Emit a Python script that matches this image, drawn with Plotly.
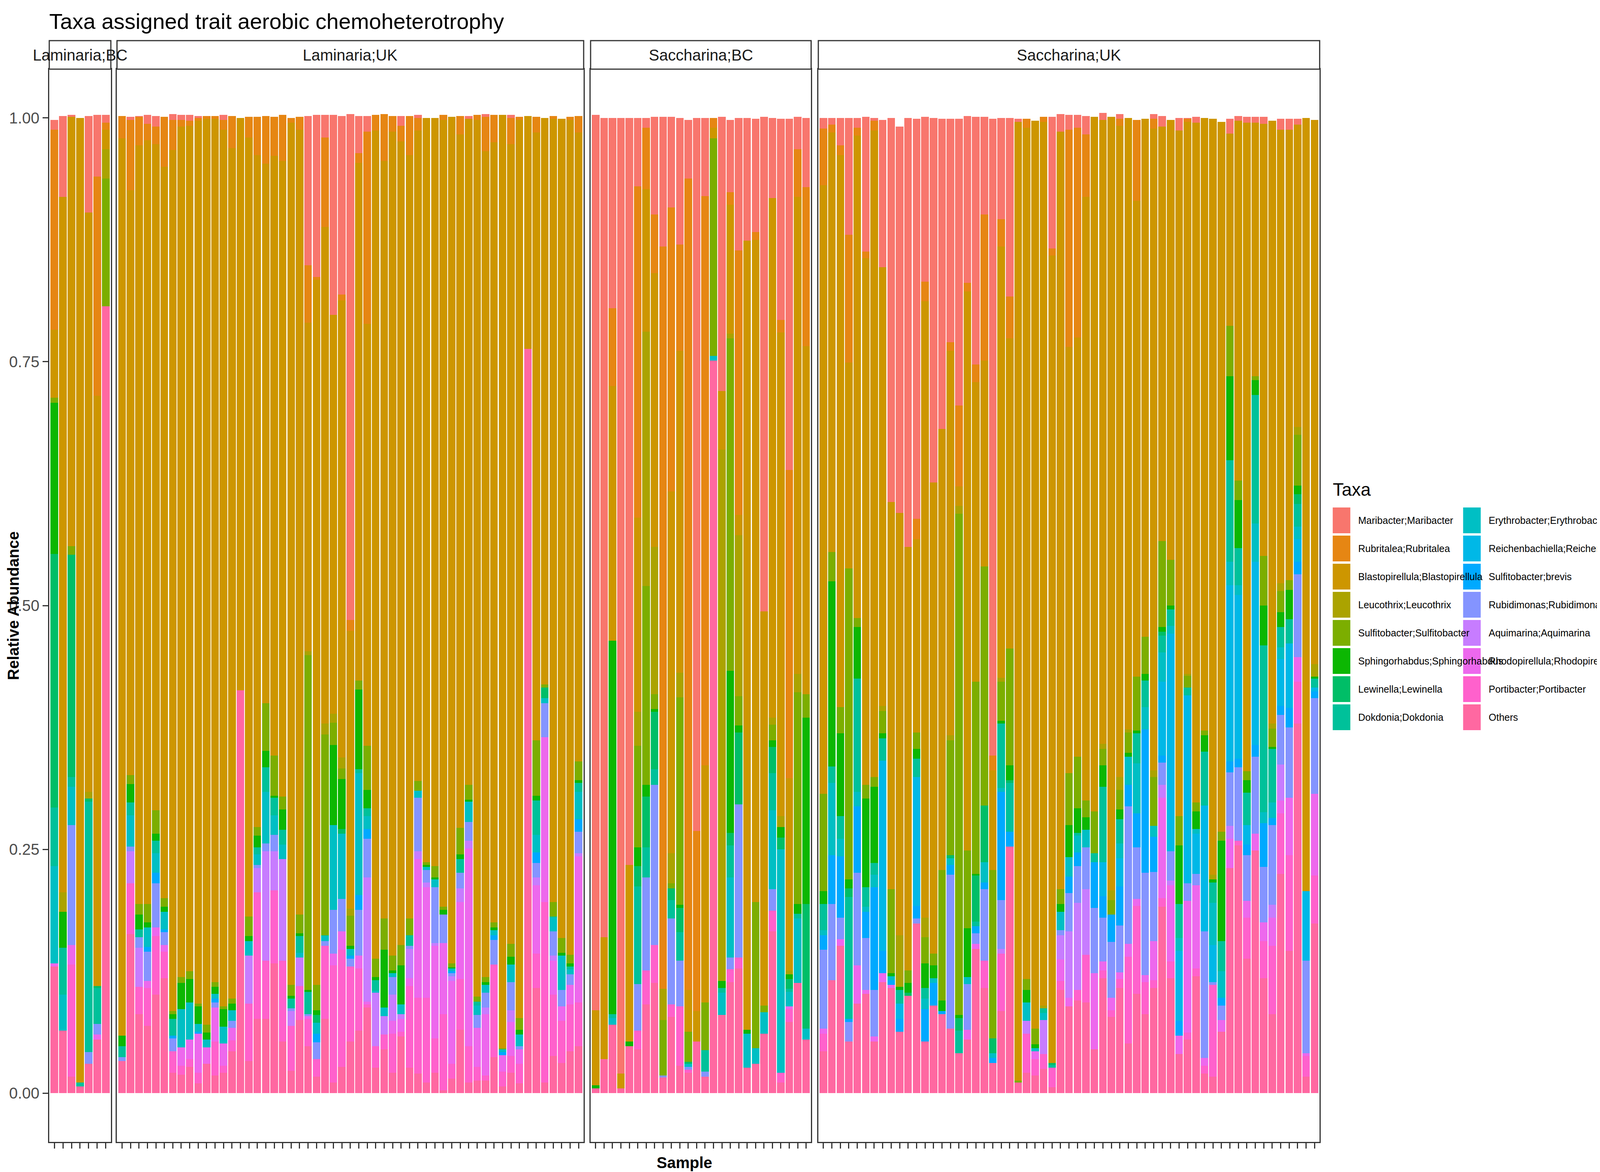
import plotly.graph_objects as go

# taxa, bottom of the stack first (ggplot draws the first factor level on top)
taxa_codes = ["Ot", "Po", "Rh", "Aq", "Rb", "Br", "Re", "Er", "Dk", "Lw", "Sp", "Sf", "Le", "Bl", "Ru", "Ma"]
taxa_names = ["Others", "Portibacter;Portibacter", "Rhodopirellula;Rhodopirellula", "Aquimarina;Aquimarina",
              "Rubidimonas;Rubidimonas", "Sulfitobacter;brevis", "Reichenbachiella;Reichenbachiella",
              "Erythrobacter;Erythrobacter", "Dokdonia;Dokdonia", "Lewinella;Lewinella",
              "Sphingorhabdus;Sphingorhabdus", "Sulfitobacter;Sulfitobacter", "Leucothrix;Leucothrix",
              "Blastopirellula;Blastopirellula", "Rubritalea;Rubritalea", "Maribacter;Maribacter"]
taxa_colors = ["#FF68A1", "#FF61CC", "#ED68ED", "#C77CFF", "#8494FF", "#00A9FF", "#00B8E7", "#00BFC4",
               "#00C19A", "#00BE67", "#0CB702", "#7CAE00", "#ABA300", "#CD9600", "#E68613", "#F8766D"]

panels = ["Laminaria;BC", "Laminaria;UK", "Saccharina;BC", "Saccharina;UK"]

# percent abundance per sample, "code value" pairs
laminaria_bc = [
    "Ot 13 Rh 0.3 Er 10 Dk 6 Lw 26 Sp 15.5 Sf 0.5 Bl 7 Ru 20.5 Ma 1",
    "Ot 6.4 Er 3.7 Dk 4.8 Sp 3.7 Le 2 Bl 71.3 Ma 8.3",
    "Ot 1.7 Po 11.5 Rh 2 Rb 12.3 Er 3.9 Dk 1 Lw 22.8 Sf 0.9 Bl 44 Ma 0.2",
    "Ot 0.7 Dk 0.4 Bl 98.9",
    "Ot 3 Rb 1.2 Dk 25.7 Lw 0.3 Le 0.7 Bl 59.4 Ma 9.9",
    "Ot 5.5 Rh 0.5 Rb 1.1 Dk 3.7 Lw 0.2 Bl 60.5 Ru 22.5 Ma 6.3",
    "Ot 80.7 Sf 13.1 Le 3 Bl 2 Ru 0.7 Ma 0.8",
]
laminaria_uk = [
    "Ot 3.3 Rb 0.4 Dk 1.1 Sp 1.1 Bl 92 Ru 2.3",
    "Ot 16.3 Po 5.2 Aq 3.3 Rb 0.5 Er 3.2 Dk 1.3 Sp 1.9 Sf 0.9 Bl 60 Ru 7.2 Ma 0.3",
    "Ot 8.1 Po 2.8 Aq 4 Rb 1.1 Dk 0.8 Sp 1.5 Sf 1.1 Bl 77.8 Ru 2.9 Ma 0.1",
    "Ot 6.9 Po 3.9 Rh 0.7 Rb 3 Br 0.5 Er 2 Sp 0.5 Sf 1.9 Bl 78.3 Ru 1.7 Ma 0.9",
    "Ot 10.1 Po 6 Rh 0.9 Rb 4.5 Br 1.1 Er 2 Dk 1.3 Sp 0.7 Sf 2.4 Bl 68.3 Ru 1.8 Ma 1.1",
    "Ot 11.8 Po 2.7 Rh 0.7 Rb 1.3 Br 0.3 Er 1.8 Sp 0.5 Sf 0.9 Bl 75 Ru 5.1",
    "Ot 2.1 Po 2.2 Rb 1.3 Br 0.3 Dk 1.7 Sp 0.5 Sf 0.3 Bl 88.3 Ru 3.1 Ma 0.6",
    "Ot 1.9 Po 0.9 Rh 1.9 Er 3.9 Sp 2.7 Sf 0.6 Bl 87.2 Ru 0.7 Ma 0.5",
    "Ot 2.7 Po 0.8 Rh 2 Er 3.8 Sp 2.4 Sf 0.8 Bl 86.7 Ru 0.5 Ma 0.6",
    "Ot 1 Po 1.1 Rh 4 Br 0.2 Er 0.8 Sp 1.8 Sf 0.3 Bl 90.5 Ru 0.3 Ma 0.2",
    "Ot 3 Rh 1.7 Er 0.8 Sp 0.7 Sf 0.8 Bl 92.9 Ru 0.3",
    "Ot 1.8 Po 3.5 Rh 3.5 Rb 0.5 Br 0.4 Er 0.5 Sp 0.7 Sf 0.5 Bl 88.5 Ru 0.3",
    "Ot 2.1 Po 0.7 Rh 2.3 Er 1.7 Sp 1.8 Sf 0.3 Bl 89.9 Ru 1 Ma 0.5",
    "Ot 4.3 Po 1.1 Rh 1.3 Rb 0.7 Er 1.1 Sp 0.7 Sf 0.5 Bl 87.2 Ru 3.3",
    "Ot 41.3 Bl 58.7",
    "Ot 3.3 Po 5.9 Aq 4.9 Er 1.5 Sp 0.5 Sf 2 Bl 79.9 Ru 2.1",
    "Ot 7.6 Po 13 Aq 2.5 Rb 0.3 Er 1.1 Dk 0.7 Sp 1.2 Sf 0.9 Bl 68.9 Ru 3.9",
    "Ot 7.6 Po 6 Aq 11.2 Rb 0.8 Er 5.3 Dk 2.5 Sp 1.7 Sf 4.9 Bl 55.3 Ru 4.9",
    "Ot 13.3 Po 7.5 Aq 4 Rb 1.7 Er 2 Dk 1.8 Sp 0.2 Sf 4.1 Bl 61.5 Ru 4",
    "Ot 5.3 Po 8.3 Aq 10.4 Er 1.5 Dk 1.5 Sp 2.1 Sf 1.3 Bl 65.2 Ru 4.7",
    "Ot 2.3 Po 4.6 Aq 1.5 Rb 0.3 Dk 1 Sp 0.3 Sf 1.1 Bl 88.4 Ru 0.5",
    "Ot 7.5 Po 3.5 Aq 2.9 Er 0.5 Dk 1.7 Sp 0.3 Sf 1.9 Bl 80.5 Ru 1.3",
    "Ot 4.8 Po 2.8 Rh 0.3 Rb 0.2 Dk 2.3 Sp 0.2 Sf 34.3 Le 0.4 Bl 33.7 Ru 5.9 Ma 15.3",
    "Ot 1.7 Po 1.8 Rb 1.7 Br 0.9 Er 1.1 Lw 0.8 Sp 0.5 Sf 2.6 Bl 72.3 Ru 0.3 Ma 16.6",
    "Ot 7.6 Po 7.5 Rb 0.5 Er 0.5 Dk 0.1 Sf 20.6 Le 1.1 Bl 50.9 Ru 9.2 Ma 2.3",
    "Ot 1.1 Po 12 Rh 1.2 Rb 4.5 Er 8.7 Sp 8.2 Sf 2.3 Le 0.9 Bl 40.9 Ma 20.5",
    "Ot 2.7 Po 12 Rh 1.9 Rb 3.3 Er 6.7 Lw 0.5 Sp 5.1 Sf 1.1 Le 1.1 Bl 46.9 Ru 0.6 Ma 18.3",
    "Ot 5.3 Po 7.7 Rb 0.8 Br 0.3 Er 0.7 Sp 0.3 Sf 3.1 Le 0.7 Bl 28.5 Ru 1.1 Ma 51.9",
    "Ot 6.4 Po 6.4 Rh 1.3 Rb 4.7 Br 1.5 Er 12.5 Dk 0.4 Sp 8.2 Sf 0.9 Bl 53.1 Ru 1 Ma 3.8",
    "Ot 8.8 Po 0.3 Rh 0.3 Aq 12.7 Rb 4 Br 1 Er 1.3 Dk 0.8 Sp 1.9 Sf 4.5 Bl 43.3 Ru 19.7 Ma 1.6",
    "Ot 2.6 Po 2.2 Aq 5.5 Er 0.2 Dk 1.1 Sp 0.3 Sf 1.9 Bl 84.9 Ru 1.6",
    "Ot 4.5 Po 1.5 Aq 1.9 Er 0.9 Sp 5.9 Sf 3.2 Bl 77.7 Ru 4.8",
    "Ot 2.1 Po 4 Rh 1.3 Aq 2.7 Rb 1.8 Er 0.4 Sp 0.3 Sf 1.5 Bl 84.5 Ru 1.6",
    "Ot 5.8 Po 0.5 Rh 1.3 Aq 0.5 Er 1 Sp 4 Sf 2.1 Bl 82.4 Ru 1.6 Ma 1",
    "Ot 2.6 Po 8.4 Rh 0.8 Aq 3 Rb 0.3 Dk 1.1 Sf 1.7 Bl 78.3 Ru 4",
    "Ot 2 Po 7.8 Rh 14.2 Aq 0.8 Rb 5.5 Er 0.7 Sf 1 Bl 66.7 Ru 1.3 Ma 0.3",
    "Ot 1.1 Po 8.7 Rh 11.3 Aq 0.5 Rb 1.3 Er 0.3 Sp 0.2 Sf 0.3 Bl 76.3",
    "Ot 2.1 Po 3.5 Rh 9.5 Aq 0.3 Rb 5.7 Er 0.8 Sp 0.2 Sf 1.2 Bl 76.7",
    "Ot 0.3 Po 7.8 Rh 7.3 Rb 2.9 Sp 0.5 Sf 0.3 Bl 80.7 Ru 0.5",
    "Ot 1.5 Po 1.5 Rh 8.5 Aq 0.5 Rb 0.3 Br 0.2 Er 0.3 Sp 0.1 Sf 0.4 Bl 86.8",
    "Ot 6.5 Po 5.2 Rh 7.9 Aq 1.4 Rb 1.6 Dk 1.4 Sp 0.5 Sf 2.7 Bl 71.1 Ru 1.9",
    "Ot 1.1 Po 3.7 Rh 20.3 Aq 0.8 Rb 1.9 Er 2.1 Sp 0.2 Sf 1.5 Bl 68.3 Ma 0.3",
    "Ot 1.3 Po 1.4 Rh 4 Rb 1.3 Er 1 Dk 0.4 Sf 0.5 Bl 89.9 Ru 0.5",
    "Ot 1.3 Po 0.5 Rh 6.3 Aq 0.7 Rb 1.5 Er 0.8 Sp 0.3 Sf 0.5 Bl 84.7 Ru 3.5 Ma 0.3",
    "Ot 3.7 Po 9.5 Rb 2.5 Br 0.5 Er 0.5 Sp 0.3 Sf 0.5 Bl 80 Ru 2.8",
    "Ot 0.7 Po 1.5 Rh 1.7 Br 0.3 Er 0.3 Sf 0.1 Bl 95.7",
    "Ot 2.1 Po 1.7 Rh 3.5 Aq 1.2 Rb 2.9 Er 1.8 Sp 0.8 Sf 1.3 Bl 82 Ru 2.7 Ma 0.3",
    "Ot 1 Po 2 Rh 1.5 Rb 0.3 Er 1.2 Sp 0.5 Sf 1.2 Bl 92.1 Ru 0.3",
    "Ot 76.3 Bl 23.9",
    "Ot 10.8 Po 3.5 Rh 7 Aq 0.8 Rb 1.5 Br 1.1 Er 1.8 Dk 3.5 Sp 0.5 Sf 5.7 Bl 62.3 Ru 1.6",
    "Ot 1.1 Po 18.5 Rh 16.9 Rb 3.5 Er 0.5 Lw 1.1 Sf 0.3 Bl 58.1",
    "Ot 3.8 Po 6.3 Rh 3.5 Aq 0.5 Rb 2.5 Er 1.4 Dk 0.1 Sf 1.5 Bl 80.3 Ru 0.3",
    "Ot 3.1 Po 4.3 Rh 1.5 Rb 1.7 Er 3.5 Sp 0.3 Sf 1.5 Bl 84",
    "Ot 4.3 Po 4.8 Rh 2 Rb 1.1 Er 0.5 Dk 0.3 Sp 0.3 Sf 0.9 Bl 85.6 Ru 0.3",
    "Ot 4.8 Po 4.5 Rh 15 Aq 0.3 Rb 2.2 Br 1.3 Er 2.8 Dk 0.9 Sp 0.3 Sf 1.9 Bl 64.5 Ru 1.7",
]
saccharina_bc = [
    "Ot 0.5 Sp 0.3 Bl 7.7 Ma 91.8",
    "Ot 3.5 Bl 12.5 Ma 84",
    "Ot 7 Er 0.7 Dk 0.4 Sp 38.3 Bl 26.1 Ru 8 Ma 19.5",
    "Ot 0.5 Bl 1.5 Ma 98",
    "Ot 4.8 Sp 0.5 Bl 18.1 Ma 76.6",
    "Ot 4.5 Po 1.9 Rb 4.8 Dk 10 Lw 2.1 Sp 1.9 Sf 10.4 Le 3.5 Bl 19.9 Ru 34 Ma 7",
    "Ot 9.1 Po 3.5 Rb 9.5 Dk 3.1 Lw 5.2 Sp 1.2 Sf 20.4 Le 26.1 Bl 14.6 Ru 6.3 Ma 1",
    "Ot 11.3 Po 3.9 Rb 16.4 Dk 1.6 Lw 5.9 Sp 0.3 Sf 1.5 Le 15.1 Bl 28.1 Ru 6 Ma 10",
    "Ot 1.6 Rb 0.2 Sf 5.7 Le 3.2 Ru 76.1 Ma 13.3",
    "Ot 7.8 Po 1.3 Rb 8.8 Dk 1.9 Lw 1.2 Sf 0.5 Le 3.1 Bl 37.1 Ru 29.1 Ma 9.3",
    "Ot 2.8 Po 6.1 Rb 4.7 Dk 2.9 Lw 2.5 Sp 0.3 Sf 21.3 Le 2.5 Bl 33 Ru 10.9 Ma 13",
    "Ot 2.1 Po 0.3 Rb 0.3 Er 0.3 Lw 0.2 Sf 3.1 Bl 4.3 Ru 83.2 Ma 6",
    "Ot 5.3 Bl 3.1 Ru 18.5 Ma 73.1",
    "Ot 1.7 Rb 0.5 Dk 2.2 Sf 4.9 Bl 24.3 Ru 58.4 Ma 8",
    "Ot 75.1 Er 0.5 Sf 22.3 Bl 1.1 Ru 1",
    "Ot 8 Er 2.3 Dk 0.5 Sp 0.7 Le 54.5 Bl 6 Ma 28.1",
    "Ot 11.4 Po 1.3 Rb 1.2 Er 8.2 Dk 3.3 Lw 1.3 Sp 16.6 Sf 34.1 Le 0.5 Bl 13.2 Ru 1.3 Ma 7.4",
    "Ot 12.8 Po 1.1 Rb 15.7 Lw 7.4 Sp 0.7 Sf 3 Le 16.5 Bl 2.1 Ru 27.1 Ma 13.6",
    "Ot 2.6 Er 3.5 Sp 0.4 Bl 80.9 Ma 12.6",
    "Ot 3 Er 1.6 Sf 15 Bl 67.9 Ru 0.8 Ma 11.6",
    "Ot 6.1 Er 2.2 Sf 0.7 Bl 40.4 Ma 50.7",
    "Ot 16.6 Po 2.1 Rb 2.2 Er 8.1 Dk 3.8 Lw 2.7 Sp 0.7 Sf 1.6 Le 0.7 Bl 53.3 Ma 8.2",
    "Ot 1.1 Po 1 Er 22.9 Lw 1.2 Sp 1.1 Le 1.1 Bl 49.6 Ru 1.3 Ma 20.6",
    "Ot 7.3 Po 1.3 Rh 0.3 Er 1.5 Dk 0.3 Lw 1 Sp 0.5 Le 0.4 Bl 19.7 Ru 31.6 Ma 36",
    "Ot 11.3 Er 6.6 Dk 0.5 Sp 1 Sf 21.7 Le 1.9 Bl 48.9 Ru 4.9 Ma 3.3",
    "Ot 5.5 Er 1.1 Lw 12.8 Sp 19.1 Sf 2.4 Bl 35.7 Ru 16.3 Ma 7.1",
]
saccharina_uk = [
    "Ot 4.3 Po 1.8 Rh 0.5 Rb 8.1 Br 1.5 Er 0.5 Dk 2.7 Sp 1.3 Sf 10 Bl 62.4 Ru 5.8 Ma 1.1",
    "Ot 11.6 Rb 7.8 Br 5 Er 7.4 Dk 1.7 Sp 19 Sf 3 Bl 43 Ru 0.8 Ma 0.7",
    "Ot 15.1 Rh 0.7 Rb 2.2 Br 6.3 Er 1.8 Dk 2.3 Sp 8.5 Sf 2.7 Bl 56.6 Ru 1 Ma 2.8",
    "Ot 5.3 Rb 2 Br 0.3 Dk 12.5 Lw 0.9 Sp 0.9 Sf 31.9 Bl 21.1 Ru 13.1 Ma 12",
    "Ot 9.2 Rh 3.9 Rb 9.5 Br 6.8 Er 1.5 Dk 11.6 Sp 5.3 Sf 0.9 Bl 49.5 Ru 0.8 Ma 1",
    "Ot 10.2 Rh 0.4 Rb 5.3 Br 2.7 Er 0.5 Dk 2 Sp 9.1 Sf 1.4 Bl 54 Ru 0.7 Ma 13.8",
    "Ot 5.3 Rh 0.5 Rb 4.8 Br 10.5 Er 1.3 Dk 1.2 Sp 7.8 Sf 1 Bl 66.3 Ru 1 Ma 0.3",
    "Ot 11.4 Rh 0.9 Br 2.3 Re 19.5 Dk 2.3 Sp 0.5 Sf 2.3 Le 0.5 Bl 45 Ma 15.1",
    "Ot 10.8 Rh 0.3 Br 0.5 Er 0.4 Sp 0.3 Sf 8.6 Bl 39.7 Ma 39.4",
    "Ot 6.3 Br 1.3 Re 1.6 Dk 1.4 Sp 0.3 Le 5.3 Bl 43.3 Ma 39.6",
    "Ot 10 Lw 0.3 Sp 1 Sf 1.3 Bl 43.4 Ma 44",
    "Ot 17.4 Rb 0.5 Br 1.3 Re 13.2 Dk 1.9 Sp 1 Sf 1.7 Bl 19.8 Ru 2.1 Ma 41",
    "Ot 5.3 Br 3.3 Er 1.1 Dk 1.1 Sp 2.5 Sf 2.7 Le 2 Bl 63.2 Ru 2 Ma 16.9",
    "Ot 9 Br 2.3 Er 0.5 Sp 1.3 Sf 1.2 Bl 48.3 Ma 37.4",
    "Ot 8.1 Br 0.3 Sp 1.1 Sf 13.4 Bl 45.2 Ma 31.8",
    "Ot 6.6 Rb 15.8 Br 1 Er 0.7 Lw 0.3 Sf 11.8 Le 0.5 Bl 39.4 Ru 0.9 Ma 22.9",
    "Ot 4.1 Dk 2.3 Lw 1.3 Sp 0.3 Sf 51.4 Le 0.8 Bl 2 Ru 8.3 Ma 29.4",
    "Ot 5.5 Rh 1 Rb 4.7 Er 0.7 Sp 5 Sf 8 Bl 57.3 Ru 0.9 Ma 17.1",
    "Ot 14.8 Rh 0.5 Rb 1.1 Br 0.7 Dk 0.5 Lw 4.7 Sp 0.2 Sf 19.7 Bl 30.7 Ru 1.8 Ma 25.4",
    "Ot 10.8 Po 2.8 Rb 7.3 Br 0.7 Er 2.1 Lw 5.8 Sf 24.5 Bl 21.1 Ru 15 Ma 10",
    "Ot 3.1 Br 0.5 Er 0.5 Lw 1.5 Sf 17.3 Bl 10.2 Ru 1.5 Ma 65.3",
    "Ot 8.4 Po 5.9 Aq 0.5 Rb 5 Br 11.1 Er 0.4 Dk 6.6 Sp 0.3 Sf 4 Le 0.4 Bl 44.2 Ru 2.8 Ma 10.4",
    "Ot 25.3 Br 1.5 Dk 5 Lw 0.3 Sp 1.5 Sf 12 Bl 31.8 Ru 4.3 Ma 18.3",
    "Ot 1.1 Sf 0.2 Bl 98.3 Ma 0.3",
    "Ot 2.1 Po 4 Aq 1.3 Er 1.9 Sp 1.3 Sf 1.1 Bl 87.3 Ru 0.9",
    "Ot 1.8 Po 1.7 Rh 0.8 Er 0.3 Sp 0.4 Sf 1.6 Bl 93.1",
    "Ot 2.5 Po 1.5 Aq 3.5 Er 0.7 Dk 0.5 Le 0.3 Bl 90.6 Ru 0.5",
    "Ot 0.6 Po 2 Dk 0.3 Lw 0.2 Bl 82.8 Ru 0.7 Ma 13.5",
    "Ot 10.6 Po 0.9 Rh 2.2 Aq 2.5 Rb 0.5 Er 1.9 Sp 0.8 Sf 1.5 Bl 77.7 Ma 1.8",
    "Ot 8.9 Rh 0.9 Aq 6.8 Rb 3.9 Br 1.7 Er 2 Sp 3.3 Sf 5.3 Bl 43.7 Ru 22.3 Ma 1.5",
    "Ot 9.5 Po 1.1 Aq 8.9 Rb 3.8 Br 1.4 Er 1.7 Dk 0.3 Sp 2.5 Sf 5.3 Bl 43 Ru 21.5 Ma 1.3",
    "Ot 9.3 Po 4.9 Aq 6.7 Rb 4.3 Er 1.8 Sp 1.3 Sf 1.7 Bl 61.9 Ru 6.4 Ma 1.9",
    "Ot 4.5 Rh 7.8 Rb 6.7 Br 4.7 Dk 0.9 Sf 4.3 Bl 71.2",
    "Ot 11.8 Po 0.8 Rh 0.9 Rb 4.5 Br 2.2 Re 3.5 Dk 7.7 Sp 2.2 Sf 1.7 Le 0.5 Bl 64 Ma 0.7",
    "Ot 7.8 Po 0.7 Rh 1.3 Rb 5.7 Br 2.8 Sf 1.5 Le 1 Bl 79.3",
    "Ot 10.8 Po 0.9 Rh 0.7 Rb 4.8 Br 4 Re 2.9 Er 1.5 Dk 2.5 Sp 1 Sf 2 Le 1.3 Bl 66.8 Ru 0.7 Ma 0.5",
    "Ot 5.1 Po 8.9 Rh 1.3 Rb 14.1 Br 2.2 Er 2.9 Sp 0.4 Sf 2.1 Le 0.3 Bl 62.7",
    "Ot 10.2 Po 9 Rh 0.7 Rb 5.3 Br 3.5 Er 5.1 Dk 3.1 Sp 0.3 Sf 5.5 Bl 48.8 Ru 8.3",
    "Ot 8.1 Po 3.3 Rh 0.7 Rb 10.5 Br 14.7 Er 2.3 Dk 2.7 Sp 0.7 Sf 3.8 Bl 53.1",
    "Ot 10.8 Po 0.8 Rh 4 Rb 7.1 Br 3.6 Er 1.1 Sf 5 Le 0.7 Bl 65.8 Ru 1 Ma 0.5",
    "Ot 19.1 Po 0.9 Rh 10.3 Aq 1.3 Rb 2.3 Br 0.7 Re 7.6 Er 3 Dk 1.7 Lw 0.4 Sp 0.5 Sf 8.8 Bl 42.5 Ma 1.1",
    "Ot 11.8 Po 1.7 Rh 7.8 Aq 0.5 Rb 3 Re 22.3 Er 0.8 Dk 1.7 Sp 0.4 Sf 4.7 Bl 45.1",
    "Ot 4 Rh 1.9 Br 1.5 Re 7.2 Er 1.3 Dk 3.5 Sp 6 Sf 3 Bl 70.3 Ma 1.3",
    "Ot 5.5 Po 0.7 Rh 13.5 Rb 1.8 Re 19.3 Dk 0.8 Sf 1.2 Le 0.2 Bl 56.6 Ru 0.3 Ma 0.1",
    "Ot 12 Po 0.8 Rh 8.5 Rb 1.2 Re 4.1 Er 0.5 Sp 1.8 Sf 0.9 Bl 69.7 Ma 0.6",
    "Ot 2 Po 0.8 Rh 0.8 Rb 13 Re 12.9 Dk 5.5 Sp 1.7 Sf 0.5 Bl 62.8",
    "Ot 1.7 Po 9.4 Rb 0.3 Re 3.8 Er 4.3 Dk 2.1 Sp 0.3 Le 0.5 Bl 77.5",
    "Ot 6.3 Rh 1.2 Rb 1.5 Br 0.8 Er 2.7 Dk 3.1 Sp 10.3 Sf 0.9 Bl 72.8",
    "Ot 23.1 Rh 3 Aq 1.3 Rb 5.5 Br 1.1 Re 18.1 Er 2.4 Dk 10.4 Sp 8.6 Sf 5.2 Bl 19.7 Ma 1.5",
    "Ot 25.4 Po 0.5 Rb 7.5 Br 0.9 Re 16.8 Er 1 Dk 3.8 Sp 4.9 Sf 2 Bl 36.9 Ma 0.5",
    "Ot 13.8 Po 4.2 Rh 1.7 Rb 4.7 Br 1.1 Re 2 Dk 3.3 Sp 1.3 Sf 0.9 Bl 66.5 Ma 0.6",
    "Ot 24.9 Rh 1.7 Rb 7.9 Br 1.2 Re 18.8 Er 3.9 Dk 13.2 Sp 1.5 Sf 0.4 Bl 26 Ma 0.6",
    "Ot 11.8 Po 3.8 Rh 1.9 Rb 5.7 Br 4.5 Er 1.1 Dk 17.1 Sp 4.1 Sf 5.1 Bl 44.3 Ma 0.7",
    "Ot 8.1 Po 7 Rh 2.9 Aq 1.3 Rb 8.2 Br 0.7 Er 1.6 Dk 5.5 Sp 0.2 Sf 1.9 Le 0.5 Bl 61.8",
    "Ot 22.5 Po 6.2 Rh 1.3 Aq 3.7 Rb 5.1 Br 0.9 Re 4.8 Er 1.2 Dk 2.1 Sp 1.5 Sf 2.2 Le 0.8 Bl 46.5 Ma 1.1",
    "Ot 14.6 Po 9.8 Rh 5.9 Rb 7.2 Br 2 Re 6.6 Dk 2.5 Sp 3 Sf 1 Bl 46.2 Ma 1.1",
    "Ot 37.9 Po 4.3 Rh 2.5 Rb 8.5 Br 1.3 Re 2.3 Er 1.3 Dk 2.3 Lw 1 Sp 0.9 Sf 5.2 Le 0.8 Bl 31 Ma 0.6",
    "Ot 1.7 Po 2.1 Rh 0.3 Rb 9.5 Re 7.1 Bl 79.3",
    "Ot 17.4 Po 4.9 Rh 8.4 Rb 9.8 Br 0.7 Re 0.4 Dk 0.9 Sp 0.2 Le 1.3 Bl 55.8",
]
panel_samples = [laminaria_bc, laminaria_uk, saccharina_bc, saccharina_uk]


def parse(rows):
    out = {c: [] for c in taxa_codes}
    for row in rows:
        parts = row.split()
        vals = {parts[i]: float(parts[i + 1]) / 100 for i in range(0, len(parts), 2)}
        for c in taxa_codes:
            out[c].append(vals.get(c, 0.0))
    return out


W, H = 6000, 3000
panel_px = [(173, 404), (427, 2177), (2203, 3030), (3057, 4937)]
y_bot, y_top, strip_top = 2915, 169, 96
FONT = "Liberation Sans, Arial, sans-serif"


def px(x):
    return x / W


def py(y):
    return 1 - y / H


fig = go.Figure()
shapes, annotations = [], []
layout = {}
for k, (name, rows) in enumerate(zip(panels, panel_samples)):
    ax = "" if k == 0 else str(k + 1)
    data = parse(rows)
    n = len(rows)
    xs = list(range(1, n + 1))
    for code, tname, col in zip(taxa_codes, taxa_names, taxa_colors):
        fig.add_trace(go.Bar(x=xs, y=data[code], name=tname, marker=dict(color=col, line=dict(width=0)),
                             width=0.9, showlegend=False, xaxis="x" + ax, yaxis="y" + ax))
    x0, x1 = px(panel_px[k][0]), px(panel_px[k][1])
    layout["xaxis" + ax] = dict(domain=[x0, x1], range=[0.4, n + 0.6], tickvals=xs, showticklabels=False,
                                ticks="outside", ticklen=14, tickwidth=3, tickcolor="#333333",
                                showgrid=False, zeroline=False, showline=True, mirror=True,
                                linecolor="#333333", linewidth=3, anchor="y" + ax)
    layout["yaxis" + ax] = dict(domain=[py(y_bot), py(y_top)], range=[-0.05, 1.05],
                                tickvals=[0, 0.25, 0.5, 0.75, 1.0],
                                ticktext=["0.00", "0.25", "0.50", "0.75", "1.00"],
                                showticklabels=(k == 0), ticks="outside" if k == 0 else "",
                                ticklen=14, tickwidth=3, tickcolor="#333333",
                                tickfont=dict(size=40, color="#4D4D4D", family=FONT),
                                showgrid=False, zeroline=False, showline=True, mirror=True,
                                linecolor="#333333", linewidth=3, anchor="x" + ax)
    # facet strip
    shapes.append(dict(type="rect", xref="paper", yref="paper", x0=x0, x1=x1,
                       y0=py(y_top), y1=py(strip_top), fillcolor="white",
                       line=dict(color="#333333", width=3)))
    annotations.append(dict(text=name, xref="paper", yref="paper", x=(x0 + x1) / 2,
                            y=py((y_top + strip_top) / 2), xanchor="center", yanchor="middle",
                            showarrow=False, font=dict(size=40, color="#1A1A1A", family=FONT)))

# legend drawn by hand, two columns like ggplot
annotations.append(dict(text="Taxa", xref="paper", yref="paper", x=px(4983), y=py(1245),
                        xanchor="left", yanchor="middle", showarrow=False,
                        font=dict(size=46, color="black", family=FONT)))
legend_order = list(reversed(range(len(taxa_codes))))
for j, idx in enumerate(legend_order):
    col, row = divmod(j, 8)
    kx = 4986 if col == 0 else 5475
    ky = 1291 + row * 72
    shapes.append(dict(type="rect", xref="paper", yref="paper", x0=px(kx), x1=px(kx + 66),
                       y0=py(ky + 66), y1=py(ky), fillcolor=taxa_colors[idx], line=dict(width=0)))
    annotations.append(dict(text=taxa_names[idx], xref="paper", yref="paper", x=px(kx + 93),
                            y=py(ky + 33), xanchor="left", yanchor="middle", showarrow=False,
                            font=dict(size=25, color="black", family=FONT)))

annotations.append(dict(text="<b>Relative Abundance</b>", xref="paper", yref="paper", x=px(38),
                        y=py(1542), xanchor="center", yanchor="middle", textangle=-90, showarrow=False,
                        font=dict(size=40, color="black", family=FONT)))
annotations.append(dict(text="<b>Sample</b>", xref="paper", yref="paper", x=px(2555), y=py(2968),
                        xanchor="center", yanchor="middle", showarrow=False,
                        font=dict(size=40, color="black", family=FONT)))

fig.update_layout(autosize=True, margin=dict(l=0, r=0, t=0, b=0), barmode="stack", bargap=0.1,
                  plot_bgcolor="white", paper_bgcolor="white", shapes=shapes, annotations=annotations,
                  title=dict(text="Taxa assigned trait aerobic chemoheterotrophy", x=px(173), xanchor="left",
                             y=py(46), yanchor="middle", font=dict(size=56, color="black", family=FONT)),
                  **layout)
fig.write_html("out.html", default_width="100vw", default_height="100vh", config={"responsive": True})
